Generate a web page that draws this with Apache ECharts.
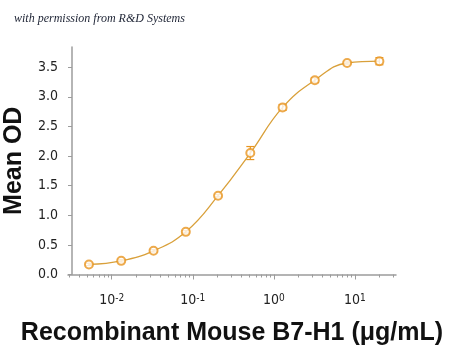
<!DOCTYPE html>
<html>
<head>
<meta charset="utf-8">
<script src="https://cdn.jsdelivr.net/npm/echarts@6/dist/echarts.min.js"></script>
<style>
  html, body { margin: 0; padding: 0; background: #fff; }
  #main { width: 450px; height: 352px; }
</style>
</head>
<body>
<div id="main"></div>
<script>
// concentration (ug/mL), 2.5-fold dilution series
var conc = [0.00524, 0.0131, 0.0328, 0.082, 0.205, 0.512, 1.28, 3.2, 8, 20];
var meanOD = [0.17, 0.23, 0.40, 0.72, 1.33, 2.05, 2.82, 3.28, 3.57, 3.60];
var errOD = [0.02, 0.02, 0.02, 0.02, 0.02, 0.11, 0.05, 0.04, 0.02, 0.06];

var yTicks = [0, 0.5, 1.0, 1.5, 2.0, 2.5, 3.0, 3.5];
var xDecades = [-2, -1, 0, 1];            // log10 of major ticks
var minorMult = [2, 3, 4, 5, 6, 7, 8, 9];

var xMin = -2.539, xMax = 1.506;

var minorTicks = [];
[-3, -2, -1, 0, 1].forEach(function (d) {
    minorMult.forEach(function (m) {
        var v = d + Math.log10(m);
        if (v > xMin && v < xMax) minorTicks.push(v);
    });
});

var pts = conc.map(function (c, i) { return [Math.log10(c), meanOD[i]]; });
var errs = conc.map(function (c, i) { return [Math.log10(c), meanOD[i] - errOD[i], meanOD[i] + errOD[i]]; });

var orange = '#E8951F';
var axisGrey = '#9c9c9c';
var tickFont = '"Liberation Sans Narrow", "DejaVu Sans Condensed", sans-serif';

var myChart = echarts.init(document.getElementById('main'));

var option = {
    backgroundColor: '#fff',
    animation: false,
    title: {
        text: 'with permission from R&D Systems',
        left: 9,
        top: 8,
        textStyle: {
            fontFamily: '"Liberation Serif", serif',
            fontStyle: 'italic',
            fontWeight: 'normal',
            fontSize: 12,
            color: '#1c2233'
        }
    },
    grid: {
        left: 68,
        right: 54,
        top: 47,
        bottom: 77.5,
        containLabel: false,
        outerBoundsMode: 'none'
    },
    xAxis: [{
        type: 'value',
        min: xMin,
        max: xMax,
        splitLine: { show: false },
        axisLine: { onZero: false, lineStyle: { color: axisGrey, width: 1.5 } },
        axisTick: {
            customValues: xDecades,
            length: 5,
            lineStyle: { color: axisGrey }
        },
        axisLabel: {
            customValues: xDecades,
            margin: 19,
            formatter: function (v) { return '{b|10}{s|' + Math.round(v) + '}'; },
            rich: {
                b: { fontFamily: tickFont, fontSize: 14, lineHeight: 14, color: '#222', verticalAlign: 'bottom' },
                s: { fontFamily: tickFont, fontSize: 10, lineHeight: 10, color: '#222', verticalAlign: 'top', padding: [0, 0, 8, 0] }
            }
        },
        name: 'Recombinant Mouse B7-H1 (μg/mL)',
        nameLocation: 'middle',
        nameGap: 46,
        nameTextStyle: {
            fontFamily: '"Liberation Sans", Arial, sans-serif',
            fontWeight: 'bold',
            fontSize: 25,
            color: '#111'
        }
    }, {
        // minor ticks only
        type: 'value',
        position: 'bottom',
        min: xMin,
        max: xMax,
        splitLine: { show: false },
        axisLine: { show: false, onZero: false },
        axisLabel: { show: false },
        axisTick: {
            customValues: minorTicks,
            length: 3,
            lineStyle: { color: axisGrey }
        }
    }],
    yAxis: {
        type: 'value',
        min: 0,
        max: 3.84,
        offset: -4,
        splitLine: { show: false },
        axisLine: { show: true, onZero: false, lineStyle: { color: axisGrey, width: 1.5 } },
        axisTick: {
            show: true,
            customValues: yTicks,
            length: 4,
            lineStyle: { color: axisGrey }
        },
        axisLabel: {
            customValues: yTicks,
            margin: 14,
            fontFamily: tickFont,
            fontSize: 14,
            color: '#222',
            formatter: function (v) { return v.toFixed(1); }
        },
        name: 'Mean OD',
        nameLocation: 'middle',
        nameGap: 43,
        nameTextStyle: {
            fontFamily: '"Liberation Sans", Arial, sans-serif',
            fontWeight: 'bold',
            fontSize: 25,
            color: '#111'
        }
    },
    series: [{
        type: 'line',
        data: pts,
        smooth: 0.45,
        symbol: 'none',
        lineStyle: { color: '#D9A03A', width: 1.3 },
        z: 1
    }, {
        type: 'custom',
        data: errs,
        renderItem: function (params, api) {
            var x = api.value(0);
            var lo = api.coord([x, api.value(1)]);
            var hi = api.coord([x, api.value(2)]);
            var w = 4;
            var st = { stroke: orange, lineWidth: 1.2 };
            return {
                type: 'group',
                children: [
                    { type: 'line', shape: { x1: lo[0], y1: lo[1], x2: hi[0], y2: hi[1] }, style: st },
                    { type: 'line', shape: { x1: lo[0] - w, y1: lo[1], x2: lo[0] + w, y2: lo[1] }, style: st },
                    { type: 'line', shape: { x1: hi[0] - w, y1: hi[1], x2: hi[0] + w, y2: hi[1] }, style: st }
                ]
            };
        },
        z: 2
    }, {
        type: 'scatter',
        data: pts,
        symbol: 'emptyCircle',
        symbolSize: 8,
        itemStyle: { color: orange, borderColor: orange, borderWidth: 1.2 },
        z: 3
    }]
};

myChart.setOption(option);
</script>
</body>
</html>
